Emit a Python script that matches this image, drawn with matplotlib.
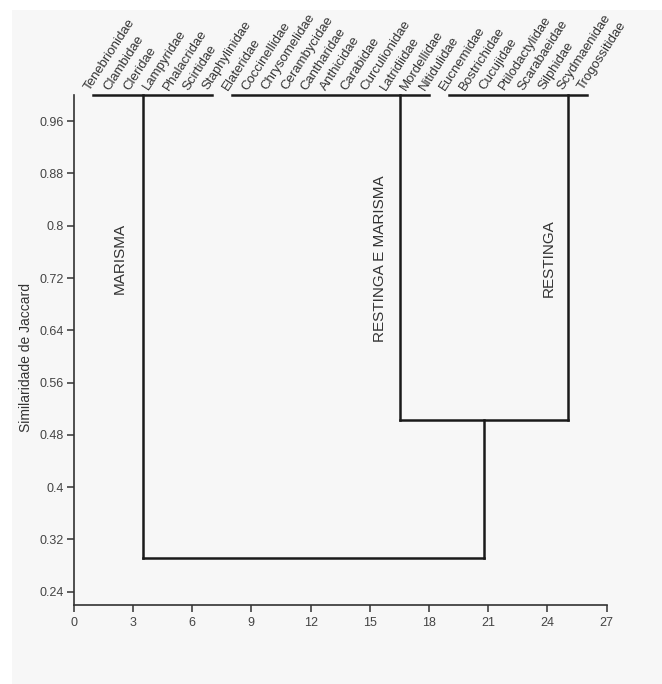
import matplotlib.pyplot as plt
import numpy as np
from matplotlib.patches import Rectangle

plt.rcParams['font.family'] = ['Liberation Sans', 'DejaVu Sans']

# leaves, left to right
families = ["Tenebrionidae", "Clambidae", "Cleridae", "Lampyridae", "Phalacridae",
            "Scirtidae", "Staphylinidae", "Elateridae", "Coccinellidae", "Chrysomelidae",
            "Cerambycidae", "Cantharidae", "Anthicidae", "Carabidae", "Curculionidae",
            "Latridiidae", "Mordellidae", "Nitidulidae", "Eucnemidae", "Bostrichidae",
            "Cucujidae", "Ptilodactylidae", "Scarabaeidae", "Silphidae", "Scydmaenidae",
            "Trogossitidae"]

# groups (similarity 1.0 inside each group)
group_names = ["MARISMA", "RESTINGA E MARISMA", "RESTINGA"]
group_first = [1, 8, 19]
group_last = [7, 18, 26]
group_stem = [3.5, 16.55, 25.05]
group_label_x = [2.35, 15.5, 24.05]
leaf_sim = 1.0
merge_sim = [0.502, 0.291]   # restinga+mista, then with marisma

yticks = [0.24, 0.32, 0.40, 0.48, 0.56, 0.64, 0.72, 0.80, 0.88, 0.96]
ytick_labels = ["0.24", "0.32", "0.4", "0.48", "0.56", "0.64", "0.72", "0.8", "0.88", "0.96"]
xticks = [0, 3, 6, 9, 12, 15, 18, 21, 24, 27]

line_kw = dict(color="#1a1a1a", lw=1.8, clip_on=False, solid_capstyle="projecting")

fig = plt.figure(figsize=(6.62, 6.84), dpi=100, facecolor="white")
fig.patches.append(Rectangle((12 / 662, 0), 1, 674 / 684, transform=fig.transFigure,
                             facecolor="#f7f7f7", edgecolor="none", zorder=-10))
ax = fig.add_axes([0.1113, 0.1155, 0.8052, 0.7455])
ax.set_facecolor("#f7f7f7")
ax.patch.set_alpha(0)

leaf_x = np.arange(1, len(families) + 1)

# leaf rows
for first, last in zip(group_first, group_last):
    ax.plot([first, last], [leaf_sim, leaf_sim], **line_kw)

# stems down to merges
ax.plot([group_stem[1], group_stem[1]], [leaf_sim, merge_sim[0]], **line_kw)
ax.plot([group_stem[2], group_stem[2]], [leaf_sim, merge_sim[0]], **line_kw)
ax.plot([group_stem[1], group_stem[2]], [merge_sim[0], merge_sim[0]], **line_kw)
mid = (group_stem[1] + group_stem[2]) / 2
ax.plot([mid, mid], [merge_sim[0], merge_sim[1]], **line_kw)
ax.plot([group_stem[0], group_stem[0]], [leaf_sim, merge_sim[1]], **line_kw)
ax.plot([group_stem[0], mid], [merge_sim[1], merge_sim[1]], **line_kw)

# leaf names
for x, name in zip(leaf_x, families):
    ax.annotate(name, (x, leaf_sim), xytext=(-1, 2), textcoords="offset points",
                rotation=57, rotation_mode="anchor", ha="left", va="bottom",
                fontsize=9.5, color="#333333", annotation_clip=False)

# group names
for x, name in zip(group_label_x, group_names):
    ax.text(x, 0.75, name, rotation=90, ha="center", va="center",
            fontsize=11, color="#333333")

ax.set_xlim(0, 27)
ax.set_ylim(0.2195, 1.0)
ax.set_xticks(xticks)
ax.set_yticks(yticks)
ax.set_yticklabels(ytick_labels)
ax.tick_params(axis="both", direction="out", length=5, width=1.1, color="#333333",
               labelsize=9, labelcolor="#444444")
ax.tick_params(axis="x", pad=4)
ax.tick_params(axis="y", pad=2)
for side in ["top", "right"]:
    ax.spines[side].set_visible(False)
for side in ["left", "bottom"]:
    ax.spines[side].set_color("#333333")
    ax.spines[side].set_linewidth(1.2)

ax.set_ylabel("Similaridade de Jaccard", fontsize=10, color="#333333")
ax.yaxis.set_label_coords(-0.076, 0.486)

plt.savefig("out.png", dpi=100, facecolor=fig.get_facecolor())
